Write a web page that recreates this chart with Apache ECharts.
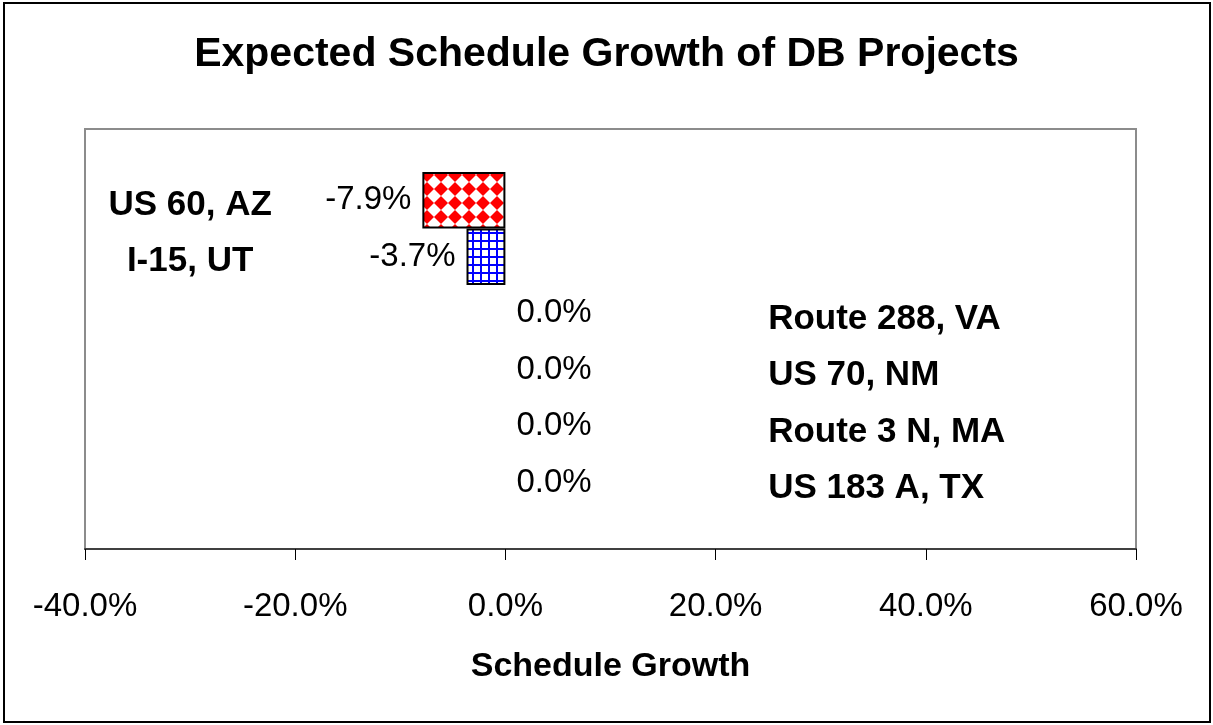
<!DOCTYPE html>
<html>
<head>
<meta charset="utf-8">
<title>Expected Schedule Growth of DB Projects</title>
<script src="https://cdn.jsdelivr.net/npm/echarts@6/dist/echarts.min.js"></script>
<style>
  html, body { margin: 0; padding: 0; background: #fff; }
  #chart { width: 1213px; height: 725px; }
</style>
</head>
<body>
<div id="chart"></div>
<script>
// Project names, top to bottom
const projects = ['US 60, AZ', 'I-15, UT', 'Route 288, VA', 'US 70, NM', 'Route 3 N, MA', 'US 183 A, TX'];
// Expected schedule growth, percent
const growth = [-7.9, -3.7, 0.0, 0.0, 0.0, 0.0];
// Horizontal axis range and step, percent
const axisMin = -40;
const axisMax = 60;
const axisStep = 20;

const FONT = '"Liberation Sans", Arial, Helvetica, sans-serif';

// Where the project names sit along the growth axis (in axis units)
const NAME_X_NEG = -30;
const NAME_X_ZERO = 25;

// Red diamond checker fill
function diamondPattern() {
  const s = 14;
  const c = document.createElement('canvas');
  c.width = s; c.height = s;
  const g = c.getContext('2d');
  g.fillStyle = '#ffffff';
  g.fillRect(0, 0, s, s);
  g.fillStyle = '#ff0000';
  g.beginPath();
  g.moveTo(s / 2, 0);
  g.lineTo(s, s / 2);
  g.lineTo(s / 2, s);
  g.lineTo(0, s / 2);
  g.closePath();
  g.fill();
  return c;
}

// Blue grid fill
function gridPattern() {
  const s = 8;
  const c = document.createElement('canvas');
  c.width = s; c.height = s;
  const g = c.getContext('2d');
  g.fillStyle = '#ffffff';
  g.fillRect(0, 0, s, s);
  g.fillStyle = '#0000ff';
  g.fillRect(0, 0, s, 2);
  g.fillRect(0, 0, 2, s);
  return c;
}

const fills = [
  { image: diamondPattern(), repeat: 'repeat' },
  { image: gridPattern(), repeat: 'repeat' }
];

const pct = v => v.toFixed(1) + '%';

// Zero-length bars get no outline so only their label shows
const barData = growth.map((v, i) => ({
  value: v,
  itemStyle: {
    color: fills[i % fills.length],
    borderWidth: v === 0 ? 0 : 2
  },
  label: { position: v < 0 ? 'left' : 'right' }
}));

const nameData = projects.map((p, i) => {
  const neg = growth[i] < 0;
  return {
    value: [neg ? NAME_X_NEG : NAME_X_ZERO, p],
    label: {
      align: neg ? 'center' : 'left',
      offset: [0, neg ? 5 : 6]
    }
  };
});

const chart = echarts.init(document.getElementById('chart'), null, { renderer: 'canvas' });

chart.setOption({
  backgroundColor: '#ffffff',
  animation: false,
  title: {
    text: 'Expected Schedule Growth of DB Projects',
    left: 'center',
    top: 29,
    textStyle: { fontFamily: FONT, fontWeight: 'bold', fontSize: 41, color: '#000' }
  },
  graphic: [{
    type: 'rect',
    shape: { x: 4, y: 3, width: 1206, height: 719 },
    style: { fill: 'none', stroke: '#000', lineWidth: 2 },
    silent: true,
    z: 0
  }],
  grid: [
    { left: 85, right: 77, top: 129, bottom: 176, show: true, borderColor: '#8c8c8c', borderWidth: 2, backgroundColor: 'transparent' },
    { left: 85, right: 77, top: 172, bottom: 214 }
  ],
  xAxis: [
    {
      gridIndex: 0,
      type: 'value',
      min: axisMin, max: axisMax, interval: axisStep,
      splitLine: { show: false },
      axisLine: { show: true, onZero: false, lineStyle: { color: '#404040', width: 2 } },
      axisTick: { show: true, length: 11, lineStyle: { color: '#000', width: 1 } },
      axisLabel: { formatter: v => pct(v), fontFamily: FONT, fontSize: 33, color: '#000', margin: 41 },
      name: 'Schedule Growth',
      nameLocation: 'middle',
      nameGap: 101,
      nameTextStyle: { fontFamily: FONT, fontWeight: 'bold', fontSize: 34, color: '#000' }
    },
    {
      gridIndex: 1,
      type: 'value',
      min: axisMin, max: axisMax, interval: axisStep,
      show: false
    }
  ],
  yAxis: [
    { gridIndex: 0, type: 'value', show: false, min: 0, max: 1 },
    {
      gridIndex: 1,
      type: 'category',
      data: projects,
      inverse: true,
      show: false
    }
  ],
  series: [
    {
      type: 'bar',
      xAxisIndex: 1, yAxisIndex: 1,
      data: barData,
      barWidth: '100%',
      itemStyle: { borderColor: '#000', borderWidth: 2 },
      label: {
        show: true,
        distance: 11,
        formatter: p => pct(p.value),
        fontFamily: FONT, fontSize: 33, color: '#000'
      },
      z: 3
    },
    {
      type: 'scatter',
      xAxisIndex: 1, yAxisIndex: 1,
      data: nameData,
      symbolSize: 1,
      itemStyle: { color: 'rgba(0,0,0,0)', opacity: 1 },
      label: {
        show: true,
        position: 'inside',
        formatter: p => p.value[1],
        fontFamily: FONT, fontWeight: 'bold', fontSize: 35, color: '#000',
        textBorderWidth: 0
      },
      z: 4
    }
  ]
});
</script>
</body>
</html>
